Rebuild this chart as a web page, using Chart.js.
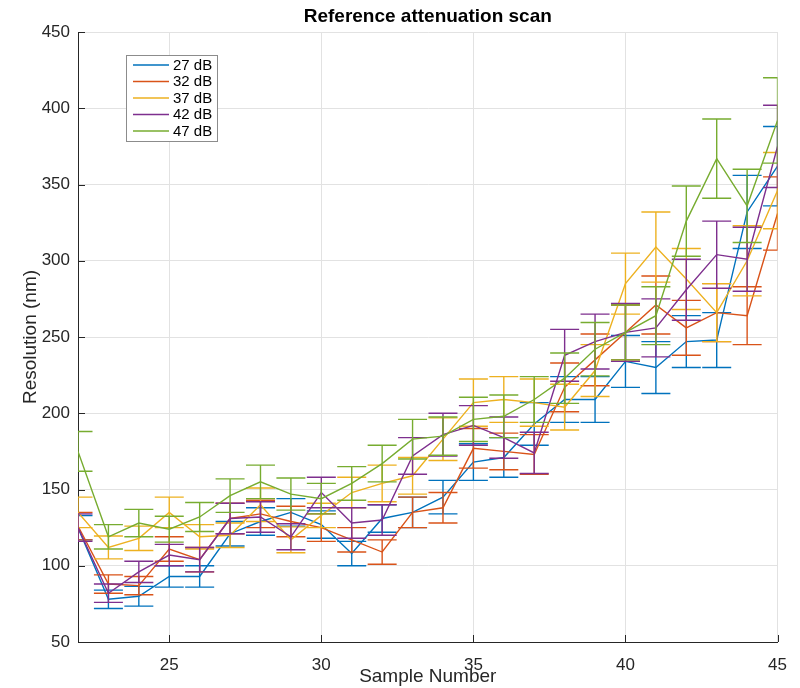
<!DOCTYPE html>
<html>
<head>
<meta charset="utf-8">
<title>Reference attenuation scan</title>
<script src="https://cdn.jsdelivr.net/npm/chart.js@4.4.1/dist/chart.umd.min.js"></script>
<style>
  html, body { margin: 0; padding: 0; background: #ffffff; }
  canvas { display: block; }
</style>
</head>
<body>
<canvas id="scan" width="800" height="688"></canvas>
<script>
// Sample positions along the scan
const sampleNumbers = [22, 23, 24, 25, 26, 27, 28, 29, 30, 31, 32, 33, 34, 35, 36, 37, 38, 39, 40, 41, 42, 43, 44, 45];

// Legend labels (attenuation settings)
const seriesLabels = ['27 dB', '32 dB', '37 dB', '42 dB', '47 dB'];

// Mean resolution (nm) per sample, one array per attenuation
const res27 = [125, 78, 80, 93, 93, 121, 129, 135, 127, 108, 131, 135, 145, 168, 171, 193, 209, 209, 234, 230, 247, 248, 332, 362];
const res32 = [126, 88, 87, 111, 104, 131, 134, 129, 125, 117, 109, 135, 138, 177, 175, 173, 217, 235, 253, 271, 256, 266, 264, 331];
const res37 = [135, 112, 118, 135, 119, 120, 140, 117, 133, 148, 154, 159, 183, 207, 209, 207, 204, 228, 285, 309, 288, 266, 300, 346];
const res42 = [125, 82, 96, 107, 104, 131, 132, 119, 148, 128, 130, 172, 186, 192, 184, 174, 238, 247, 253, 256, 281, 304, 301, 375];
const res47 = [175, 119, 128, 124, 132, 146, 155, 147, 144, 154, 167, 183, 185, 196, 198, 209, 223, 242, 253, 264, 326, 367, 336, 392];

// Symmetric error half-widths (nm)
const err27 = [8, 6, 6.5, 7, 7, 8, 9, 9, 9, 8, 9, 10, 11, 12, 13, 14, 15, 15, 17, 17, 17, 18, 24, 26];
const err32 = [9, 6, 6, 8, 8, 10, 9, 10, 9, 8, 8, 10, 10, 13, 12, 13, 16, 17, 18, 19, 18, 19, 19, 24];
const err37 = [10, 7.5, 8, 10, 8, 8, 11, 8.5, 8, 10, 12, 12, 14, 15.5, 15, 15.5, 15, 17, 20, 23, 20, 19, 23, 25];
const err42 = [9, 6, 7, 7, 8, 10, 10, 8.5, 10, 10, 10, 12, 14, 13, 13.5, 13.5, 17, 18, 19, 19, 20, 22, 21, 27];
const err47 = [13, 8, 9, 8.5, 9.5, 11, 11, 10.5, 10, 11, 12, 13, 12.5, 14.5, 14, 15, 16.5, 17.5, 18, 19, 23, 26, 24, 28];

// Axis ticks
const xTickValues = [25, 30, 35, 40, 45];
const yTickValues = [50, 100, 150, 200, 250, 300, 350, 400, 450];

const chartTitle = 'Reference attenuation scan';
const xAxisTitle = 'Sample Number';
const yAxisTitle = 'Resolution (nm)';

const seriesColors = ['#0072BD', '#D95319', '#EDB120', '#7E2F8E', '#77AC30'];
const seriesValues = [res27, res32, res37, res42, res47];
const seriesErrors = [err27, err32, err37, err42, err47];

const FONT = '"Liberation Sans", Arial, Helvetica, sans-serif';
const AXIS_COLOR = '#262626';
const LINE_W = 1.4;

// Vertical error bars with caps, drawn right after each line
const errorBarPlugin = {
  id: 'errorBars',
  afterDatasetDraw(chart, args) {
    const ds = chart.data.datasets[args.index];
    const xs = chart.scales.x, ys = chart.scales.y;
    const area = chart.chartArea;
    const c = chart.ctx;
    const capHalf = 14.5;
    c.save();
    c.beginPath();
    c.rect(area.left, area.top - 1, area.right - area.left, area.bottom - area.top + 2);
    c.clip();
    c.strokeStyle = ds.borderColor;
    c.lineWidth = LINE_W;
    ds.data.forEach((p, i) => {
      const e = ds.errors[i];
      const px = xs.getPixelForValue(p.x);
      const top = ys.getPixelForValue(p.y + e);
      const bot = ys.getPixelForValue(p.y - e);
      c.beginPath();
      c.moveTo(px, top); c.lineTo(px, bot);
      c.moveTo(px - capHalf, top); c.lineTo(px + capHalf, top);
      c.moveTo(px - capHalf, bot); c.lineTo(px + capHalf, bot);
      c.stroke();
    });
    c.restore();
  }
};

// Inward tick marks, titles and the boxed legend
const decorPlugin = {
  id: 'decor',
  afterDraw(chart) {
    const c = chart.ctx;
    const xs = chart.scales.x, ys = chart.scales.y;
    const area = chart.chartArea;
    c.save();
    c.strokeStyle = AXIS_COLOR;
    c.lineWidth = 1;
    c.beginPath();
    xTickValues.forEach(v => {
      const px = Math.round(xs.getPixelForValue(v)) + 0.5;
      c.moveTo(px, area.bottom); c.lineTo(px, area.bottom - 7);
    });
    yTickValues.forEach(v => {
      const py = Math.round(ys.getPixelForValue(v)) + 0.5;
      c.moveTo(area.left, py); c.lineTo(area.left + 7, py);
    });
    c.stroke();

    // Title
    c.fillStyle = '#000000';
    c.font = 'bold 19px ' + FONT;
    c.textAlign = 'center';
    c.textBaseline = 'middle';
    const cx = (area.left + area.right) / 2;
    c.fillText(chartTitle, cx, 17);

    // Axis titles
    c.fillStyle = AXIS_COLOR;
    c.font = '19px ' + FONT;
    c.fillText(xAxisTitle, cx, 677);
    c.save();
    c.translate(31, (area.top + area.bottom) / 2);
    c.rotate(-Math.PI / 2);
    c.fillText(yAxisTitle, 0, 0);
    c.restore();

    // Legend
    const bx = 126.5, by = 55.5, bw = 91, bh = 86;
    c.fillStyle = '#ffffff';
    c.fillRect(bx, by, bw, bh);
    c.strokeStyle = '#8c8c8c';
    c.lineWidth = 1;
    c.strokeRect(bx, by, bw, bh);
    c.font = '15px ' + FONT;
    c.textAlign = 'left';
    c.textBaseline = 'middle';
    chart.data.datasets.forEach((ds, i) => {
      const ly = 65 + i * 16.5;
      c.strokeStyle = ds.borderColor;
      c.lineWidth = LINE_W;
      c.beginPath();
      c.moveTo(133, ly); c.lineTo(169, ly);
      c.stroke();
      c.fillStyle = '#000000';
      c.fillText(ds.label, 173, ly + 0.5);
    });
    c.restore();
  }
};

const datasets = seriesLabels.map((label, i) => ({
  label: label,
  data: sampleNumbers.map((x, j) => ({ x: x, y: seriesValues[i][j] })),
  errors: seriesErrors[i],
  borderColor: seriesColors[i],
  backgroundColor: seriesColors[i],
  borderWidth: LINE_W,
  pointRadius: 0,
  tension: 0,
  fill: false,
  order: seriesLabels.length - 1 - i
}));

new Chart(document.getElementById('scan').getContext('2d'), {
  type: 'line',
  data: { datasets: datasets },
  options: {
    responsive: false,
    animation: false,
    devicePixelRatio: 1,
    layout: { padding: { top: 32, right: 18, left: 0, bottom: 0 } },
    plugins: {
      legend: { display: false },
      tooltip: { enabled: false },
      title: { display: false }
    },
    scales: {
      x: {
        type: 'linear',
        min: 22,
        max: 45,
        afterBuildTicks: s => { s.ticks = xTickValues.map(v => ({ value: v })); },
        afterFit: s => { s.height = 46; },
        grid: { color: '#e2e2e2', drawTicks: false },
        border: { color: AXIS_COLOR, width: 1 },
        ticks: { font: { family: FONT, size: 17 }, color: AXIS_COLOR, padding: 13, maxRotation: 0 }
      },
      y: {
        type: 'linear',
        min: 50,
        max: 450,
        afterBuildTicks: s => { s.ticks = yTickValues.map(v => ({ value: v })); },
        afterFit: s => { s.width = 78; },
        grid: { color: '#e2e2e2', drawTicks: false },
        border: { color: AXIS_COLOR, width: 1 },
        ticks: { font: { family: FONT, size: 17 }, color: AXIS_COLOR, padding: 8 }
      }
    }
  },
  plugins: [errorBarPlugin, decorPlugin]
});
</script>
</body>
</html>
